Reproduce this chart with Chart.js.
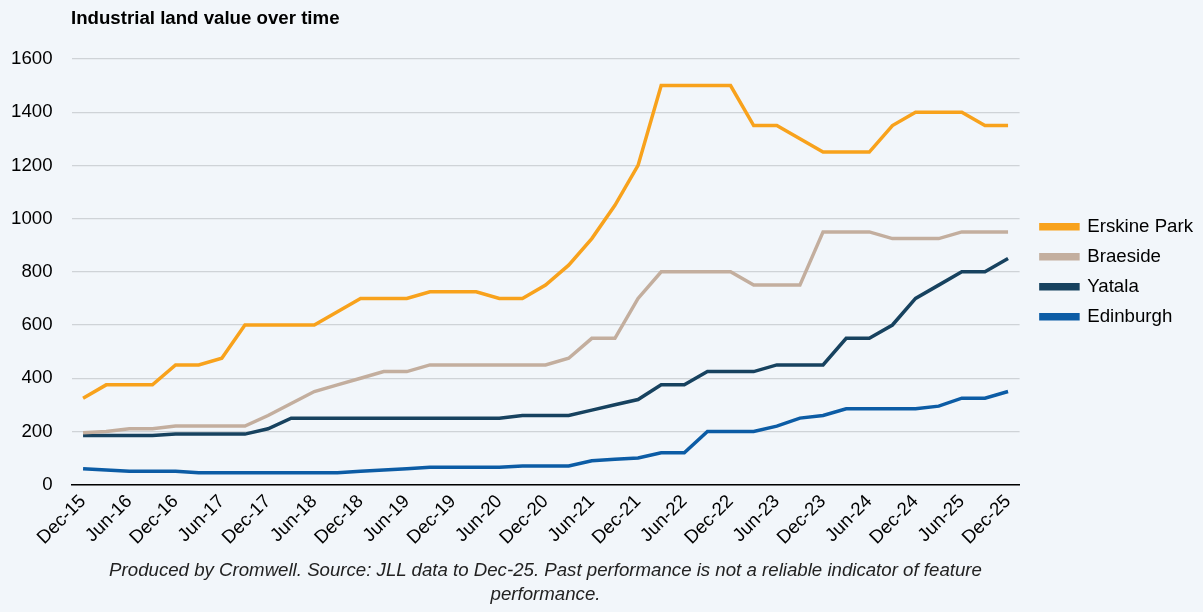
<!DOCTYPE html>
<html>
<head>
<meta charset="utf-8">
<script src="https://cdn.jsdelivr.net/npm/chart.js@4.4.1/dist/chart.umd.min.js"></script>
<style>
  html, body { margin: 0; padding: 0; background: #f2f6fa; }
  #wrap { position: relative; width: 1203px; height: 612px; background: #f2f6fa; overflow: hidden; }
  #title { position: absolute; left: 71px; top: 7px; font: bold 18.67px "Liberation Sans", Arial, sans-serif; color: #000; }
  #note { position: absolute; left: 71px; width: 949px; top: 558px; text-align: center; font: italic 18.67px "Liberation Sans", Arial, sans-serif; line-height: 24px; color: #222; }
  canvas { position: absolute; left: 0; top: 0; }
</style>
</head>
<body>
<div id="wrap">
  <canvas id="c" width="1203" height="612"></canvas>
  <div id="title">Industrial land value over time</div>
  <div id="note">Produced by Cromwell. Source: JLL data to Dec-25. Past performance is not a reliable indicator of feature performance.</div>
</div>
<script>
const categories = ["Dec-15","Mar-16","Jun-16","Sep-16","Dec-16","Mar-17","Jun-17","Sep-17","Dec-17","Mar-18","Jun-18","Sep-18","Dec-18","Mar-19","Jun-19","Sep-19","Dec-19","Mar-20","Jun-20","Sep-20","Dec-20","Mar-21","Jun-21","Sep-21","Dec-21","Mar-22","Jun-22","Sep-22","Dec-22","Mar-23","Jun-23","Sep-23","Dec-23","Mar-24","Jun-24","Sep-24","Dec-24","Mar-25","Jun-25","Sep-25","Dec-25"];
const erskinePark = [325,375,375,375,450,450,475,600,600,600,600,650,700,700,700,725,725,725,700,700,750,825,925,1050,1200,1500,1500,1500,1500,1350,1350,1300,1250,1250,1250,1350,1400,1400,1400,1350,1350];
const braeside = [195,200,210,210,220,220,220,220,260,305,350,375,400,425,425,450,450,450,450,450,450,475,550,550,700,800,800,800,800,750,750,750,950,950,950,925,925,925,950,950,950];
const yatala = [185,185,185,185,190,190,190,190,210,250,250,250,250,250,250,250,250,250,250,260,260,260,280,300,320,375,375,425,425,425,450,450,450,550,550,600,700,750,800,800,850];
const edinburgh = [60,55,50,50,50,45,45,45,45,45,45,45,50,55,60,65,65,65,65,70,70,70,90,95,100,120,120,200,200,200,220,250,260,285,285,285,285,295,325,325,350];
const seriesNames = ["Erskine Park","Braeside","Yatala","Edinburgh"];
const seriesColors = ["#f8a21c","#c3ae9e","#17425f","#0c5ca5"];
const yTicks = [0,200,400,600,800,1000,1200,1400,1600];

const values = [erskinePark, braeside, yatala, edinburgh];
const FONT = '"Liberation Sans", Arial, sans-serif';
const FS = 18.67;
const Y_PAD = 19;

new Chart(document.getElementById('c'), {
  type: 'line',
  data: {
    labels: categories,
    datasets: values.map((v, i) => ({
      label: seriesNames[i],
      data: v,
      borderColor: seriesColors[i],
      backgroundColor: seriesColors[i],
      borderWidth: 3.5,
      pointRadius: 0,
      tension: 0,
      fill: false
    }))
  },
  options: {
    responsive: false,
    animation: false,
    layout: { padding: { left: 11, right: 0, top: 59, bottom: 57 } },
    plugins: {
      title: { display: false },
      tooltip: { enabled: false },
      legend: {
        position: 'right',
        align: 'center',
        fullSize: false,
        labels: {
          boxWidth: 37,
          boxHeight: 4,
          padding: 11.3,
          color: '#000',
          font: { family: FONT, size: FS }
        }
      }
    },
    scales: {
      x: {
        offset: true,
        grid: { display: false, drawTicks: false },
        border: { display: true, color: '#000', width: 1.5 },
        afterFit: (scale) => { scale.paddingLeft = 0; scale.paddingRight = 0; },
        ticks: {
          autoSkip: false,
          maxRotation: 45,
          minRotation: 45,
          padding: 6,
          color: '#000',
          font: { family: FONT, size: FS },
          callback: function(val, idx) { return idx % 2 === 0 ? categories[idx] : ''; }
        }
      },
      y: {
        min: yTicks[0],
        max: yTicks[yTicks.length - 1],
        afterBuildTicks: (axis) => { axis.ticks = yTicks.map(v => ({ value: v })); },
        afterFit: (scale) => { scale.width = scale.width - Y_PAD; },
        grid: { color: '#cfd3d7', lineWidth: 1.3, drawTicks: false },
        border: { display: false },
        ticks: {
          padding: Y_PAD,
          color: '#000',
          font: { family: FONT, size: FS },
          callback: (v) => String(v)
        }
      },
      gap: {
        type: 'linear',
        position: 'right',
        display: true,
        min: 0,
        max: 1,
        grid: { display: false, drawTicks: false },
        border: { display: false },
        ticks: { display: false },
        afterFit: (scale) => { scale.width = 10; }
      }
    }
  }
});
</script>
</body>
</html>
